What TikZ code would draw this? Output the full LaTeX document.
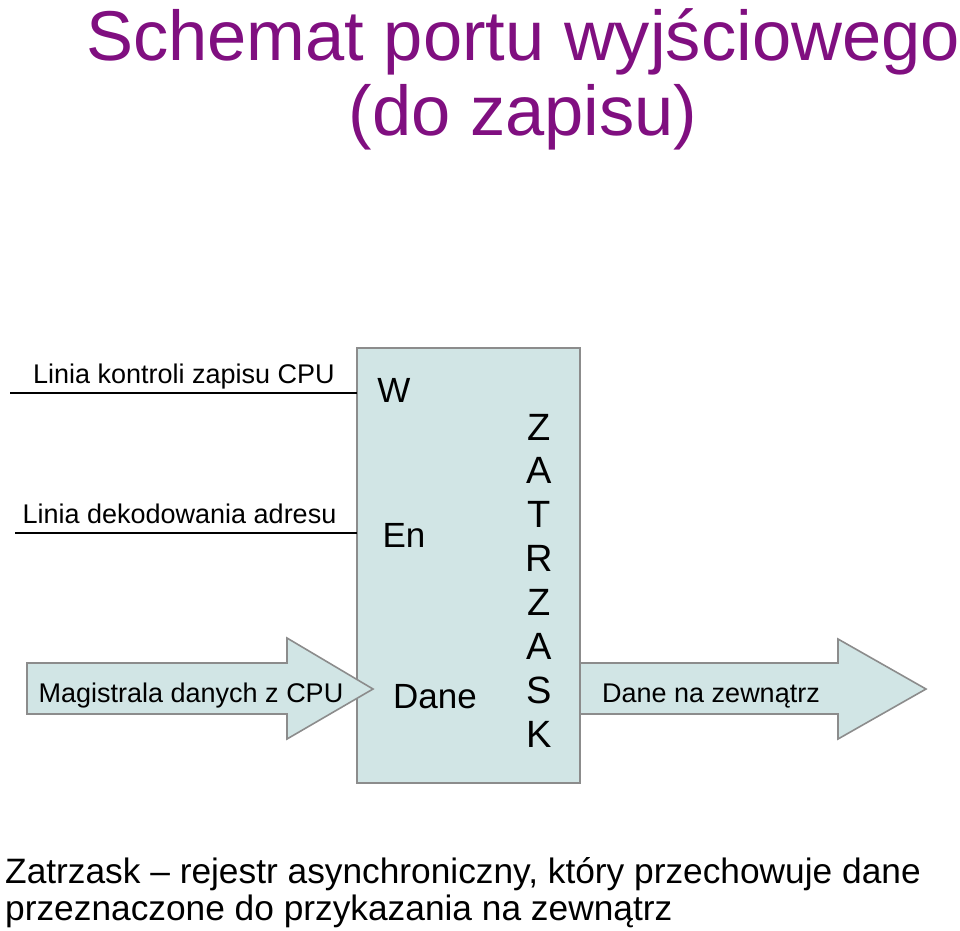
\documentclass[tikz,border=0pt]{standalone}
\usepackage{fontspec}
\setmainfont{Liberation Sans}
\usetikzlibrary{positioning}
\definecolor{tpurple}{rgb}{0.50, 0.06, 0.50}
\definecolor{lfill}{rgb}{0.82, 0.90, 0.90}
\definecolor{lgray}{rgb}{0.55, 0.55, 0.55}
\tikzset{sig/.style = {font = \fontsize{27}{30}\selectfont, inner sep = 0, anchor = base}}
\tikzset{pin/.style = {font = \fontsize{35}{40}\selectfont, inner sep = 0, anchor = base}}
\tikzset{blk/.style = {fill = lfill, draw = lgray, line width = 1.6}}

\begin{document}
\begin{tikzpicture}[x = 1pt, y = -1pt]
    \useasboundingbox (0, 0) rectangle (960, 930);

    % title
    \node [tpurple, font = \fontsize{70.5}{73}\selectfont, inner sep = 0, anchor = base] (title)
        at (523, 60) {Schemat portu wyjściowego};
    \node [tpurple, font = \fontsize{70.5}{73}\selectfont, inner sep = 0, anchor = base] (subtitle)
        at (523, 135) {(do zapisu)};

    % latch
    \draw [blk] (357, 348) rectangle (580, 783);
    \coordinate (wpin) at (357, 393);
    \coordinate (enpin) at (357, 533);
    \node [pin] (w) at (394, 402) {W};
    \node [pin] (en) at (404, 547) {En};
    \node [pin] (dane) at (435, 708) {Dane};
    \foreach \ch [count = \i from 0] in {Z, A, T, R, Z, A, S, K}
        \node [pin, font = \fontsize{38}{40}\selectfont] (name\i) at (539, 440 + 43.9 * \i) {\ch};

    % control lines
    \coordinate (wend) at (10, 393);
    \coordinate (enend) at (15, 533);
    \draw [line width = 1.4] (wend) -- (wpin);
    \draw [line width = 1.4] (enend) -- (enpin);
    \node [sig] (wlab) at (184, 383) {Linia kontroli zapisu CPU};
    \node [sig] (enlab) at (179.5, 523) {Linia dekodowania adresu};

    % data arrows
    \draw [blk] (27, 663) -- (287, 663) -- (287, 638) -- (373, 689) -- (287, 739)
        -- (287, 714) -- (27, 714) -- cycle;
    \node [sig] (inlab) at (191, 702) {Magistrala danych z CPU};
    \draw [blk] (580, 663) -- (838, 663) -- (838, 639) -- (926, 689) -- (838, 739)
        -- (838, 714) -- (580, 714) -- cycle;
    \node [sig] (outlab) at (711, 702) {Dane na zewnątrz};

    % note
    \node [font = \fontsize{35.3}{38}\selectfont, align = left, anchor = base west,
        inner sep = 0] (note) at (5, 883) {Zatrzask – rejestr asynchroniczny, który przechowuje dane};
    \node [font = \fontsize{35.3}{38}\selectfont, anchor = base west, inner sep = 0] (note2)
        at (5, 920) {przeznaczone do przykazania na zewnątrz};
  \end{tikzpicture}
\end{document}
